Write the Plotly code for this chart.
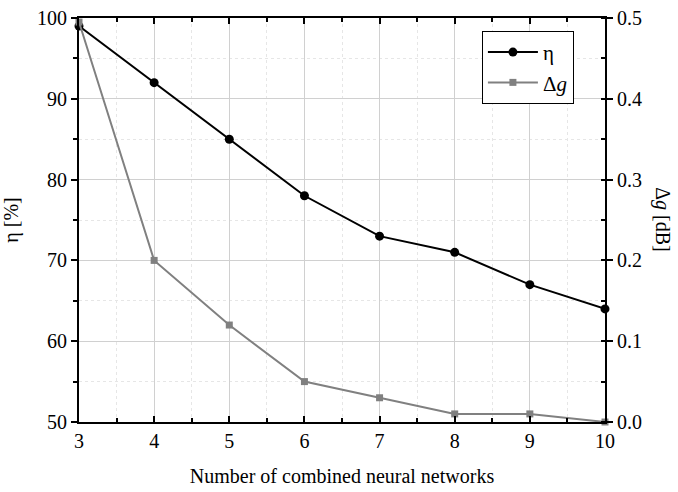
import plotly.graph_objects as go

x_vals = [3, 4, 5, 6, 7, 8, 9, 10]
eta = [99, 92, 85, 78, 73, 71, 67, 64]
delta_g = [0.495, 0.2, 0.12, 0.05, 0.03, 0.01, 0.01, 0.0]

FONT = "Times New Roman, Liberation Serif, serif"
fig = go.Figure()
fig.add_trace(go.Scatter(x=x_vals, y=eta, name="η", mode="lines+markers",
                         line=dict(color="black", width=2),
                         marker=dict(symbol="circle", size=9, color="black"),
                         cliponaxis=False))
fig.add_trace(go.Scatter(x=x_vals, y=delta_g, name="Δ<i>g</i>", mode="lines+markers",
                         yaxis="y2",
                         line=dict(color="#808080", width=2),
                         marker=dict(symbol="square", size=7, color="#808080"),
                         cliponaxis=False))

grid = "#d0d0d0"
fig.update_layout(
    width=678, height=492,
    margin=dict(l=79, r=73, t=18, b=70),
    paper_bgcolor="white", plot_bgcolor="white",
    font=dict(family=FONT, size=20, color="black"),
    showlegend=True,
    legend=dict(x=0.766, y=0.968, xanchor="left", yanchor="top",
                bordercolor="black", borderwidth=1, bgcolor="white",
                font=dict(family=FONT, size=21), tracegroupgap=0,
                itemwidth=50),
    xaxis=dict(range=[3, 10], dtick=1, tick0=3, automargin=False,
               showline=True, linecolor="black", linewidth=2, mirror="ticks",
               ticks="inside", ticklen=6, tickwidth=1.5, tickcolor="black",
               showgrid=True, gridcolor=grid, gridwidth=1,
               minor=dict(dtick=0.5, ticks="inside", ticklen=4, tickcolor="black",
                          showgrid=True, gridcolor="#e6e6e6", griddash="dot"),
               zeroline=False,
               title=dict(text="Number of combined neural networks", standoff=18,
                          font=dict(size=20)),
               tickfont=dict(size=20)),
    yaxis=dict(range=[50, 100], dtick=10, automargin=False,
               showline=True, linecolor="black", linewidth=2,
               ticks="outside", ticklen=6, tickwidth=1.5, tickcolor="black",
               showgrid=True, gridcolor=grid, gridwidth=1,
               minor=dict(dtick=5, ticks="outside", ticklen=4, tickcolor="black",
                          showgrid=True, gridcolor="#e6e6e6", griddash="dot"),
               zeroline=False,
               title=dict(text="η [%]", standoff=14, font=dict(size=20)),
               tickfont=dict(size=20)),
    yaxis2=dict(range=[0, 0.5], dtick=0.1, tickformat=".1f", automargin=False,
                overlaying="y", side="right",
                showline=True, linecolor="black", linewidth=2,
                ticks="outside", ticklen=6, tickwidth=1.5, tickcolor="black",
                minor=dict(dtick=0.05, ticks="inside", ticklen=4, tickcolor="black"),
                showgrid=False, zeroline=False,
                tickfont=dict(size=20)),
)
fig.add_annotation(text="Δ<i>g</i> [dB]", xref="paper", yref="paper", x=1.11, y=0.5,
                   textangle=90, showarrow=False, font=dict(family=FONT, size=20),
                   xanchor="center", yanchor="middle")
fig.write_html("out.html")
